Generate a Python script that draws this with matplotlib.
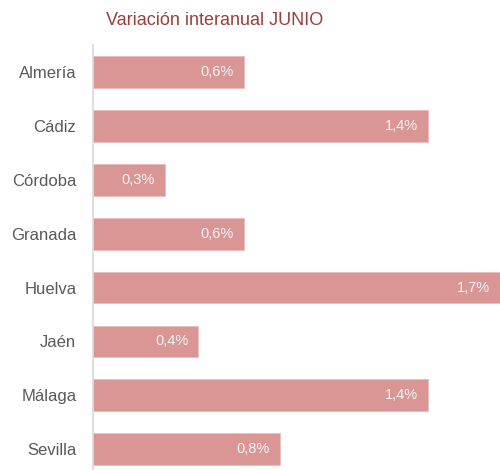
import numpy as np
import matplotlib.pyplot as plt

provincias = ['Almería', 'Cádiz', 'Córdoba', 'Granada', 'Huelva', 'Jaén', 'Málaga', 'Sevilla']
variacion = [0.63, 1.40, 0.30, 0.63, 1.70, 0.44, 1.40, 0.78]
titulo = 'Variación interanual JUNIO'

bar_col = '#D99694'
txt_col = '#595959'

plt.rcParams['font.family'] = ['Liberation Sans', 'DejaVu Sans']

fig = plt.figure(figsize=(5, 4.7), dpi=100)
ax = fig.add_axes([0.186, -0.013, 0.814, 0.917])

y = np.arange(len(provincias))
bars = ax.barh(y, variacion, height=0.59, color=bar_col, edgecolor='#E8BDBC', linewidth=0.6)

for b, v in zip(bars, variacion):
    lbl = ('%.1f%%' % v).replace('.', ',')
    ax.text(b.get_width() - 0.042, b.get_y() + b.get_height() / 2, lbl,
            ha='right', va='center', color='#F4F4F4', fontsize=10.5)

ax.set_ylim(len(provincias) - 0.5, -0.5)
ax.set_xlim(0, 1.70)
ax.set_yticks(y)
ax.set_yticklabels(provincias, fontsize=12, color=txt_col)
ax.tick_params(axis='y', length=0, pad=12)
ax.set_xticks([])
for s in ['top', 'right', 'bottom']:
    ax.spines[s].set_visible(False)
ax.spines['left'].set_color('#D9D9D9')
ax.spines['left'].set_linewidth(1.2)

fig.text(0.43, 0.957, titulo, ha='center', va='center', fontsize=13,
         color='#9C3D3B')

fig.savefig('out.png', dpi=100)
